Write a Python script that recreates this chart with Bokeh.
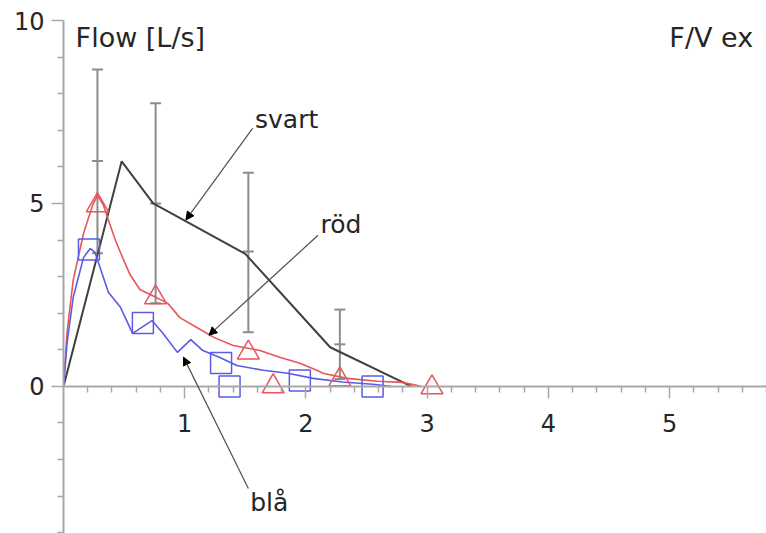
from bokeh.plotting import figure
from bokeh.models import Label, Arrow, NormalHead, FixedTicker, Range1d
from bokeh.embed import file_html
from bokeh.resources import INLINE

# ---------------- data ----------------
svart_x = [0.0, 0.48, 0.74, 1.50, 2.20, 2.87]
svart_y = [0.0, 6.15, 5.00, 3.62, 1.07, 0.00]

rod_x = [0.0, 0.03, 0.08, 0.165, 0.24, 0.28, 0.33, 0.38, 0.43, 0.49, 0.55, 0.63, 0.74,
         0.86, 0.96, 1.10, 1.24, 1.40, 1.62, 1.79, 1.95, 2.09, 2.14, 2.34, 2.59,
         2.80, 2.95]
rod_y = [0.0, 1.5, 2.90, 4.18, 4.95, 5.22, 4.95, 4.45, 3.98, 3.50, 3.05, 2.65, 2.47,
         2.27, 1.88, 1.61, 1.34, 1.12, 0.98, 0.79, 0.63, 0.44, 0.36, 0.22, 0.14,
         0.11, 0.00]
rod_mark_x = [0.28, 0.76, 1.525, 1.73, 2.28, 3.04]
rod_mark_y = [4.95, 2.43, 0.92, 0.00, 0.19, -0.03]

bla_x = [0.0, 0.03, 0.08, 0.165, 0.22, 0.26, 0.31, 0.37, 0.47, 0.57, 0.63, 0.73,
         0.82, 0.94, 1.05, 1.15, 1.29, 1.43, 1.65, 1.85, 2.06, 2.30, 2.55, 2.70]
bla_y = [0.0, 1.2, 2.43, 3.52, 3.77, 3.66, 3.17, 2.57, 2.16, 1.45, 1.58, 1.80,
         1.45, 0.93, 1.28, 0.98, 0.79, 0.57, 0.44, 0.36, 0.22, 0.12, 0.06, 0.00]
bla_mark_x = [0.21, 0.655, 1.30, 1.37, 1.95, 2.55]
bla_mark_y = [3.74, 1.73, 0.64, 0.00, 0.16, 0.00]

err_x = [0.28, 0.76, 1.525, 2.28]
err_mean = [6.16, 5.00, 3.69, 1.15]
err_upper = [8.66, 7.74, 5.84, 2.10]
err_lower = [3.64, 2.27, 1.48, 0.20]

x_ticks = [1, 2, 3, 4, 5]
x_tick_labels = ["1", "2", "3", "4", "5"]
y_ticks = [0, 5, 10]
y_tick_labels = ["0", "5", "10"]

# (label, text x, text y, arrow start x, start y, arrow tip x, tip y)
callouts = [
    ("svart", 1.58, 7.30, 1.56, 7.05, 1.01, 4.55),
    ("röd", 2.12, 4.43, 2.10, 4.13, 1.20, 1.40),
    ("blå", 1.54, -3.17, 1.525, -2.79, 0.99, 0.80),
]

FONT = "DejaVu Sans"
AXIS_GREY = "#a8a8a8"
RED = "#e8555a"
BLUE = "#5b5be6"
BLACK = "#404040"
ERR = "#8c8c8c"

p = figure(width=766, height=533, output_backend="svg", toolbar_location=None,
           x_range=Range1d(0, 5.8), y_range=Range1d(-4.02, 10),
           min_border_left=63, min_border_right=0, min_border_top=20,
           min_border_bottom=0)
p.outline_line_color = None
p.xgrid.visible = False
p.ygrid.visible = False
p.background_fill_color = "white"
p.border_fill_color = "white"

# axes
xa = p.xaxis[0]
xa.fixed_location = 0
xa.ticker = FixedTicker(ticks=x_ticks,
                        minor_ticks=[round(0.2 * i, 2) for i in range(1, 30) if i % 5 != 0])
xa.major_label_overrides = {t: l for t, l in zip(x_ticks, x_tick_labels)}
ya = p.yaxis[0]
ya.ticker = FixedTicker(ticks=y_ticks, minor_ticks=[-4, -3, -2, -1, 1, 2, 3, 4, 6, 7, 8, 9])
ya.major_label_overrides = {t: l for t, l in zip(y_ticks, y_tick_labels)}
for ax in (xa, ya):
    ax.axis_line_color = AXIS_GREY
    ax.axis_line_width = 2
    ax.major_tick_line_color = AXIS_GREY
    ax.minor_tick_line_color = AXIS_GREY
    ax.major_tick_line_width = 1.5
    ax.minor_tick_line_width = 1.5
    ax.major_tick_in = 0
    ax.minor_tick_in = 0
    ax.major_tick_out = 12
    ax.minor_tick_out = 6
    ax.major_label_text_font = FONT
    ax.major_label_text_font_size = "24px"
    ax.major_label_text_color = "#262626"
xa.major_label_standoff = 16
ya.major_label_standoff = 7

# error bars
p.segment(err_x, err_lower, err_x, err_upper, line_color=ERR, line_width=2)
for ys in (err_upper, err_mean, err_lower):
    p.scatter(err_x, ys, marker="dash", size=11, line_color=ERR, line_width=2)

# curves
p.line(svart_x, svart_y, line_color=BLACK, line_width=2)
p.line(rod_x, rod_y, line_color=RED, line_width=1.6)
p.line(bla_x, bla_y, line_color=BLUE, line_width=1.6)
p.scatter(rod_mark_x, rod_mark_y, marker="triangle", size=22, fill_color=None,
          line_color=RED, line_width=1.5)
p.scatter(bla_mark_x, bla_mark_y, marker="square", size=21, fill_color=None,
          line_color=BLUE, line_width=1.5)

# callouts
for name, tx, ty, sx, sy, ex, ey in callouts:
    p.add_layout(Arrow(end=NormalHead(size=8, fill_color="black", line_color="black"),
                       x_start=sx, y_start=sy, x_end=ex, y_end=ey,
                       line_color="#505050", line_width=1.2))
    p.add_layout(Label(x=tx, y=ty, text=name, text_font=FONT, text_font_size="25px",
                       text_color="#262626", text_baseline="middle", text_align="left"))

p.add_layout(Label(x=0.10, y=9.95, text="Flow [L/s]", text_font=FONT,
                   text_font_size="27px", text_color="#262626", text_baseline="top"))
p.add_layout(Label(x=5.69, y=9.95, text="F/V ex", text_font=FONT,
                   text_font_size="27px", text_color="#262626", text_baseline="top",
                   text_align="right"))

open("out.html", "w").write(file_html(p, INLINE))
